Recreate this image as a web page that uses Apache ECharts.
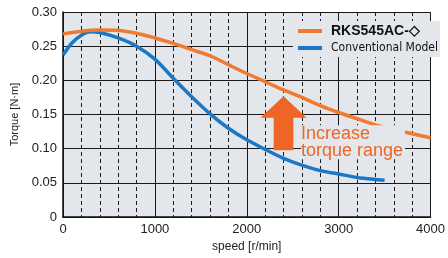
<!DOCTYPE html>
<html>
<head>
<meta charset="utf-8">
<script src="https://cdn.jsdelivr.net/npm/echarts@6/dist/echarts.min.js"></script>
<style>
  html, body { margin: 0; padding: 0; background: #fff; }
  #chart { width: 448px; height: 258px; }
</style>
</head>
<body>
<div id="chart"></div>
<script>
// speed [r/min] vs torque [N·m]
const speedTicks = [0, 1000, 2000, 3000, 4000];
const torqueTicks = [0, 0.05, 0.10, 0.15, 0.20, 0.25, 0.30];

const rksSpeed = [0, 200, 400, 600, 800, 1000, 1200, 1400, 1600, 1800, 2000, 2200, 2400, 2600, 2800, 3000, 3200, 3400, 3600, 3800, 4000];
const rksTorque = [0.268, 0.272, 0.2735, 0.273, 0.269, 0.262, 0.254, 0.245, 0.236, 0.223, 0.210, 0.198, 0.186, 0.175, 0.163, 0.153, 0.144, 0.135, 0.128, 0.122, 0.116];

const convSpeed = [0, 100, 200, 300, 400, 600, 800, 1000, 1200, 1400, 1600, 1800, 2000, 2200, 2400, 2600, 2800, 3000, 3200, 3400, 3500];
const convTorque = [0.237, 0.255, 0.266, 0.271, 0.270, 0.262, 0.250, 0.231, 0.203, 0.176, 0.151, 0.130, 0.113, 0.099, 0.086, 0.076, 0.068, 0.063, 0.058, 0.055, 0.054];

const seriesNames = ['RKS545AC-◇', 'Conventional Model'];
const annotationText = 'Increase\ntorque range';

const plotBg = '#e3e7eb';
const orange = '#f07a2f';
const blue = '#1a78c6';
const arrowColor = '#ee6526';
const font = 'Liberation Sans, Arial, sans-serif';
const narrowFont = '"Liberation Sans Narrow", "DejaVu Sans Condensed", "Roboto Condensed", Liberation Sans, sans-serif';

const zip = (xs, ys) => xs.map((x, i) => [x, ys[i]]);

const chart = echarts.init(document.getElementById('chart'));

const option = {
  animation: false,
  grid: {
    left: 63, right: 12, top: 12, bottom: 37,
    show: true, backgroundColor: plotBg, borderWidth: 0
  },
  legend: {
    orient: 'vertical',
    left: 293, top: 21,
    backgroundColor: plotBg,
    padding: [3, 2, 3, 5],
    itemGap: 4,
    itemWidth: 24, itemHeight: 4,
    icon: 'rect',
    data: [
      { name: seriesNames[0], textStyle: { fontWeight: 'bold', fontSize: 14, color: '#111', fontFamily: font, padding: [0, 0, 0, 4] } },
      { name: seriesNames[1], textStyle: { fontSize: 12, color: '#111', fontFamily: narrowFont, padding: [0, 0, 0, 4] } }
    ]
  },
  xAxis: {
    type: 'value',
    min: speedTicks[0], max: speedTicks[speedTicks.length - 1], interval: 1000,
    name: 'speed [r/min]', nameLocation: 'middle', nameGap: 21,
    nameTextStyle: { fontSize: 12, color: '#222', fontFamily: font },
    axisLine: { show: true, lineStyle: { color: '#111', width: 1.5 } },
    axisTick: { show: false },
    axisLabel: { fontSize: 13, color: '#222', margin: 6, fontFamily: font, formatter: v => String(v) },
    splitLine: { show: true, lineStyle: { color: '#1a1a1a', width: 1 } },
    minorTick: { show: false, splitNumber: 5 },
    minorSplitLine: { show: true, lineStyle: { color: '#1a1a1a', width: 1, type: [4, 3] } }
  },
  yAxis: {
    type: 'value',
    min: torqueTicks[0], max: torqueTicks[torqueTicks.length - 1], interval: 0.05,
    name: 'Torque [N·m]', nameLocation: 'middle', nameGap: 42, nameRotate: 90,
    nameTextStyle: { fontSize: 11, color: '#222', fontFamily: font },
    axisLine: { show: true, lineStyle: { color: '#111', width: 1.5 } },
    axisTick: { show: false },
    axisLabel: {
      fontSize: 13, color: '#222', margin: 6, fontFamily: font,
      formatter: v => (v === 0 ? '0' : v.toFixed(2))
    },
    splitLine: { show: true, lineStyle: { color: '#1a1a1a', width: 1 } }
  },
  series: [
    {
      name: seriesNames[0], type: 'line', smooth: 0.3, showSymbol: false,
      data: zip(rksSpeed, rksTorque),
      lineStyle: { color: orange, width: 3.5 }, itemStyle: { color: orange },
      z: 3
    },
    {
      name: seriesNames[1], type: 'line', smooth: 0.3, showSymbol: false,
      data: zip(convSpeed, convTorque),
      lineStyle: { color: blue, width: 3.5 }, itemStyle: { color: blue },
      z: 2
    }
  ]
};

chart.setOption(option);

// annotation arrow placed in data coordinates
const px = (x, y) => chart.convertToPixel({ gridIndex: 0 }, [x, y]);
const tip = px(2400, 0.1767);
const headBaseL = px(2150, 0.1453);
const headBaseR = px(2650, 0.1453);
const shaftTL = px(2293, 0.1453);
const shaftTR = px(2507, 0.1453);
const shaftB = px(2400, 0.0976);
const textPos = px(2590, 0.1345);

chart.setOption({
  graphic: [
    {
      type: 'polygon', z: 10,
      shape: {
        points: [
          tip, headBaseR, [shaftTR[0], headBaseR[1]], [shaftTR[0], shaftB[1]],
          [shaftTL[0], shaftB[1]], [shaftTL[0], headBaseL[1]], headBaseL
        ]
      },
      style: { fill: arrowColor }
    },
    {
      type: 'text', z: 10,
      x: textPos[0], y: textPos[1],
      style: {
        text: annotationText,
        fill: arrowColor,
        fontSize: 18, lineHeight: 17,
        fontFamily: font,
        backgroundColor: plotBg,
        padding: [0, 2, 0, 0]
      }
    }
  ]
});
</script>
</body>
</html>
